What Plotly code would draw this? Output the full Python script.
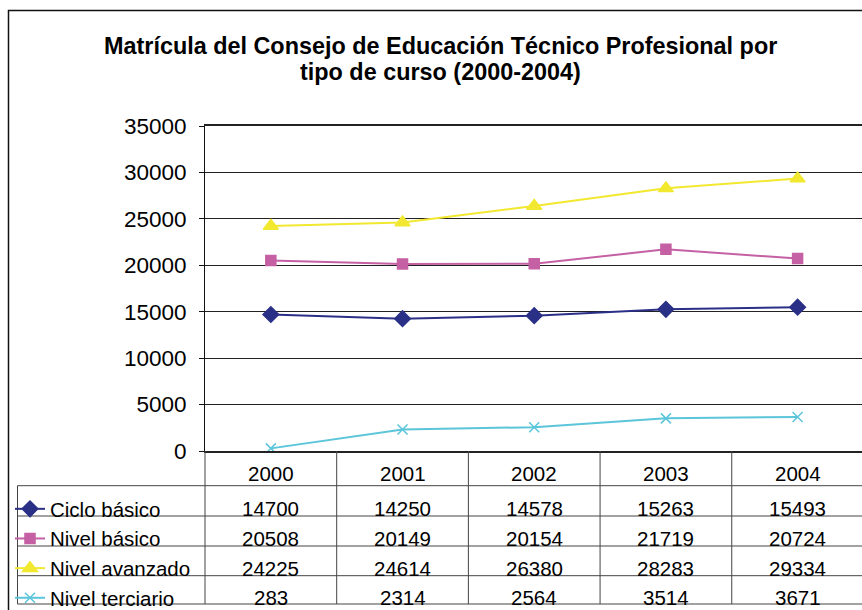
import plotly.graph_objects as go

# data
years = ["2000", "2001", "2002", "2003", "2004"]
ciclo_basico = [14700, 14250, 14578, 15263, 15493]
nivel_basico = [20508, 20149, 20154, 21719, 20724]
nivel_avanzado = [24225, 24614, 26380, 28283, 29334]
nivel_terciario = [283, 2314, 2564, 3514, 3671]

series_names = ["Ciclo básico", "Nivel básico", "Nivel avanzado", "Nivel terciario"]
series_values = [ciclo_basico, nivel_basico, nivel_avanzado, nivel_terciario]
colours = ["#2b3087", "#c460a3", "#f2e830", "#5bc5da"]
symbols = ["diamond", "square", "triangle-up", "x-thin-open"]
sizes = [12, 10, 13, 10]

FONT = "Liberation Sans, Arial, sans-serif"
W, H = 862, 610
L, T, B = 205, 126, 451  # plot area in pixels


# helpers to place the table below the plot (pixel -> paper)
def py(p):
    return (B - p) / (B - T)


def px(p):
    return (p - L) / (W - L)


fig = go.Figure()
for name, vals, col, sym, sz in zip(series_names, series_values, colours, symbols, sizes):
    fig.add_trace(
        go.Scatter(
            x=list(range(len(years))),
            y=vals,
            name=name,
            mode="lines+markers",
            line=dict(color=col, width=2),
            marker=dict(
                symbol=sym,
                size=sz,
                color=col,
                line=dict(color=col, width=1.5),
            ),
        )
    )

shapes = []
annotations = []

# outer chart border (cut off on right and bottom like the reference)
shapes.append(dict(type="rect", xref="paper", yref="paper",
                   x0=px(8.5), x1=px(900), y0=py(700), y1=py(10.5),
                   line=dict(color="#111", width=1.5)))

# data table grid
col_w = (W - L) / 4.989
row_lines = [485.7, 516, 546, 575.7, 604]
line_style = dict(color="#444", width=1)
for i in range(6):
    xc = L + i * col_w
    shapes.append(dict(type="line", xref="paper", yref="paper",
                       x0=px(xc), x1=px(xc), y0=py(B), y1=py(604), line=line_style))
shapes.append(dict(type="line", xref="paper", yref="paper",
                   x0=px(17.5), x1=px(17.5), y0=py(485.7), y1=py(604), line=line_style))
for r in row_lines:
    shapes.append(dict(type="line", xref="paper", yref="paper",
                       x0=px(17.5), x1=px(870), y0=py(r), y1=py(r), line=line_style))

TABLE_FONT = dict(size=20.5, color="black", family=FONT)

# header row: years
for i, yr in enumerate(years):
    annotations.append(dict(x=i, y=py(473), xref="x", yref="paper", text=yr,
                            yanchor="middle", showarrow=False, font=TABLE_FONT))

# value rows
row_centres = [508, 538, 568, 597]
for vals, yc in zip(series_values, row_centres):
    for i, v in enumerate(vals):
        annotations.append(dict(x=i, y=py(yc), xref="x", yref="paper", text=str(v),
                                yanchor="middle", showarrow=False, font=TABLE_FONT))

# title, two lines
title_lines = ["Matrícula del Consejo de Educación Técnico Profesional por",
               "tipo de curso (2000-2004)"]
for line, yc in zip(title_lines, [46, 71.5]):
    annotations.append(dict(x=px(440), y=py(yc), xref="paper", yref="paper",
                            text="<b>" + line + "</b>", showarrow=False,
                            xanchor="center", yanchor="middle",
                            font=dict(size=23.4, family=FONT, color="black")))

fig.update_layout(
    width=W,
    height=H,
    # autoexpand off: the legend sits in the table and must not push the plot
    margin=dict(l=L, r=0, t=T, b=H - B, pad=0, autoexpand=False),
    paper_bgcolor="white",
    plot_bgcolor="white",
    font=dict(family=FONT, color="black"),
    showlegend=True,
    legend=dict(
        x=px(10),
        xanchor="left",
        y=py(489),
        yanchor="top",
        font=TABLE_FONT,
        bgcolor="rgba(0,0,0,0)",
        itemwidth=30,
        tracegroupgap=0,
    ),
    shapes=shapes,
    annotations=annotations,
)

fig.update_xaxes(
    range=[-0.5, 4.489],
    showticklabels=False,
    ticks="",
    showgrid=False,
    showline=True,
    mirror=True,
    linecolor="#222",
    linewidth=2,
    zeroline=False,
)

fig.update_yaxes(
    range=[0, 35000],
    dtick=5000,
    tickformat="d",
    showgrid=True,
    gridcolor="#222",
    gridwidth=1,
    zeroline=False,
    showline=True,
    linecolor="#111",
    linewidth=1,
    ticks="outside",
    ticklen=5,
    tickcolor="#111",
    ticklabelstandoff=8,
    tickfont=dict(size=22.5, family=FONT, color="black"),
)

# drop the default page margin so the figure sits at the window corner
page_fix = (
    "document.body.style.margin = '0';"
    "document.body.style.overflow = 'hidden';"
)
fig.write_html("out.html", post_script=page_fix, config={"displayModeBar": False})
